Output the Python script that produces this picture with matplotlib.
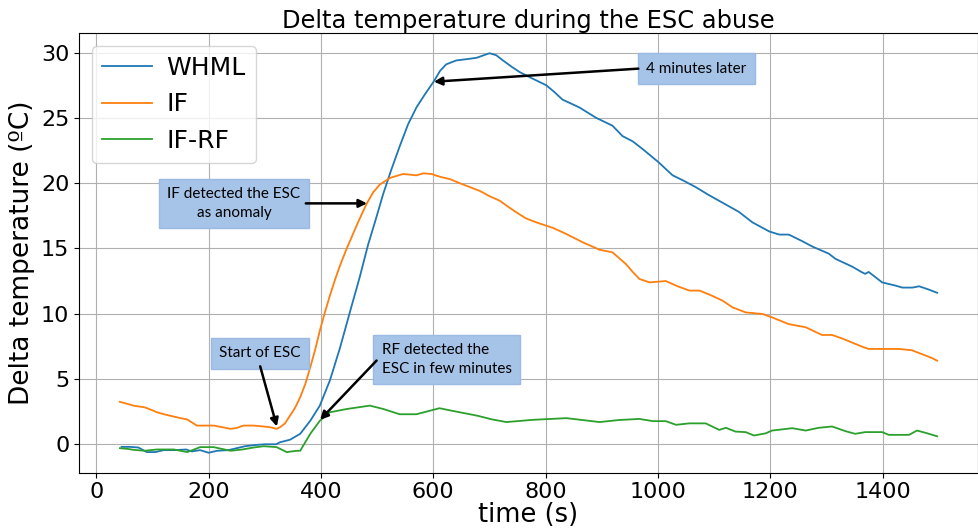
import matplotlib
matplotlib.use("Agg")
import matplotlib.pyplot as plt

# values
t_whml = [45, 60, 75, 90, 105, 120, 140, 160, 170, 185, 200, 215, 235, 250, 265, 285,
          300, 320, 327, 345, 363, 381, 398, 416, 434, 452, 469, 484, 496, 511, 525,
          540, 555, 570, 585, 601, 612, 623, 641, 660, 677, 690, 700, 712, 724, 740,
          754, 777, 801, 815, 830, 860, 890, 919, 937, 955, 973, 1001, 1026, 1045,
          1067, 1090, 1115, 1144, 1168, 1198, 1216, 1233, 1257, 1275, 1304, 1316,
          1346, 1362, 1369, 1375, 1399, 1423, 1435, 1453, 1465, 1482, 1497]
whml = [-0.2, -0.2, -0.25, -0.6, -0.6, -0.45, -0.45, -0.4, -0.55, -0.45, -0.65, -0.5,
        -0.45, -0.3, -0.15, -0.05, 0.0, 0.0, 0.15, 0.35, 0.8, 1.8, 2.96, 4.9, 7.4,
        10.2, 12.8, 15.3, 17.0, 19.2, 21.0, 22.8, 24.5, 25.8, 26.8, 27.8, 28.6, 29.1,
        29.4, 29.5, 29.6, 29.8, 29.95, 29.8, 29.4, 28.9, 28.5, 28.0, 27.5, 27.0, 26.4,
        25.8, 25.0, 24.4, 23.6, 23.2, 22.6, 21.6, 20.6, 20.2, 19.7, 19.1, 18.5, 17.8,
        17.0, 16.3, 16.06, 16.06, 15.55, 15.14, 14.6, 14.2, 13.6, 13.2, 13.05, 13.2,
        12.4, 12.15, 12.0, 12.0, 12.1, 11.85, 11.6]

t_if = [42, 55, 67, 86, 100, 108, 125, 138, 150, 162, 179, 195, 209, 225, 239, 250,
        262, 280, 298, 310, 321, 327, 336, 345, 354, 363, 372, 381, 390, 398, 407,
        416, 425, 434, 445, 455, 466, 481, 493, 505, 523, 546, 570, 582, 597, 611,
        630, 647, 665, 683, 700, 718, 733, 748, 765, 783, 813, 837, 866, 896, 919,
        943, 955, 967, 985, 1014, 1035, 1056, 1074, 1095, 1115, 1132, 1156, 1186,
        1203, 1233, 1263, 1292, 1310, 1328, 1345, 1363, 1375, 1405, 1429, 1452,
        1470, 1488, 1497]
if_ = [3.25, 3.1, 2.95, 2.83, 2.6, 2.45, 2.25, 2.12, 2.0, 1.9, 1.43, 1.43, 1.43, 1.3,
       1.18, 1.25, 1.43, 1.43, 1.36, 1.3, 1.18, 1.3, 1.6, 2.2, 2.8, 3.6, 4.6, 5.9, 7.3,
       8.7, 10.1, 11.4, 12.6, 13.7, 14.9, 15.9, 17.0, 18.4, 19.3, 19.9, 20.4, 20.7,
       20.6, 20.75, 20.7, 20.5, 20.3, 20.0, 19.7, 19.4, 19.0, 18.66, 18.2, 17.76,
       17.3, 17.0, 16.57, 16.1, 15.47, 14.9, 14.7, 13.8, 13.2, 12.66, 12.4, 12.5,
       12.1, 11.77, 11.77, 11.4, 11.0, 10.5, 10.1, 9.98, 9.72, 9.2, 8.96, 8.37, 8.37,
       8.1, 7.8, 7.48, 7.3, 7.3, 7.3, 7.2, 6.9, 6.6, 6.4]

t_ifrf = [42, 55, 67, 86, 108, 138, 162, 185, 209, 239, 260, 280, 298, 321, 339, 357,
          363, 381, 398, 416, 446, 487, 511, 540, 570, 611, 641, 677, 705, 730, 777,
          837, 896, 931, 967, 991, 1014, 1032, 1056, 1085, 1109, 1121, 1138, 1156,
          1171, 1192, 1203, 1239, 1263, 1286, 1310, 1334, 1351, 1369, 1399, 1411,
          1447, 1461, 1476, 1497]
ifrf = [-0.3, -0.35, -0.43, -0.5, -0.4, -0.4, -0.6, -0.22, -0.22, -0.5, -0.4, -0.25,
        -0.15, -0.22, -0.6, -0.5, -0.5, 0.8, 1.8, 2.45, 2.7, 2.96, 2.7, 2.3, 2.3, 2.76,
        2.5, 2.2, 1.9, 1.7, 1.87, 2.0, 1.7, 1.86, 1.94, 1.77, 1.77, 1.49, 1.6, 1.6,
        1.1, 1.26, 0.97, 0.93, 0.67, 0.84, 1.05, 1.23, 1.05, 1.26, 1.36, 1.0, 0.8,
        0.93, 0.93, 0.72, 0.72, 1.05, 0.88, 0.61]

box_font = "Lato"
box_size = 11
box_style = dict(boxstyle="square,pad=0.55", facecolor="#a6c3e8", edgecolor="#9bb9e2", lw=1)
arrow_style = dict(arrowstyle="-|>", color="black", lw=1.8, mutation_scale=12,
                   shrinkA=0, shrinkB=0)

fig, ax = plt.subplots(figsize=(9.79, 5.28), dpi=100)
fig.subplots_adjust(left=0.0807, right=0.999, bottom=0.1047, top=0.937)

ax.plot(t_whml, whml, label="WHML", lw=1.3)
ax.plot(t_if, if_, label="IF", lw=1.3)
ax.plot(t_ifrf, ifrf, label="IF-RF", lw=1.3)

ax.set_title("Delta temperature during the ESC abuse", fontsize=17.4, pad=4)
ax.set_xlabel("time (s)", fontsize=18.5, labelpad=0)
ax.set_ylabel("Delta temperature (ºC)", fontsize=19)
ax.tick_params(labelsize=16)
ax.grid(True)
ax.legend(loc="upper left", fontsize=18, handletextpad=0.6)

# annotation boxes
ax.text(1068, 28.77, "4 minutes later", fontsize=box_size, family=box_font,
        ha="center", va="center", bbox=box_style)
ax.annotate("", xy=(601, 27.77), xytext=(965, 28.77), arrowprops=arrow_style)

ax.text(245, 18.45, "IF detected the ESC\nas anomaly", fontsize=box_size, family=box_font,
        ha="center", va="center", multialignment="center", linespacing=1.4, bbox=box_style)
ax.annotate("", xy=(482, 18.45), xytext=(373, 18.45), arrowprops=arrow_style)

ax.text(291, 6.98, "Start of ESC", fontsize=box_size, family=box_font,
        ha="center", va="center", bbox=box_style)
ax.annotate("", xy=(321.5, 1.36), xytext=(291.8, 5.97), arrowprops=arrow_style)

ax.text(624, 6.5, "RF detected the\nESC in few minutes", fontsize=box_size, family=box_font,
        ha="center", va="center", multialignment="left", linespacing=1.4, bbox=box_style)
ax.annotate("", xy=(398.4, 1.87), xytext=(499, 6.41), arrowprops=arrow_style)

plt.savefig("out.png", dpi=100)
